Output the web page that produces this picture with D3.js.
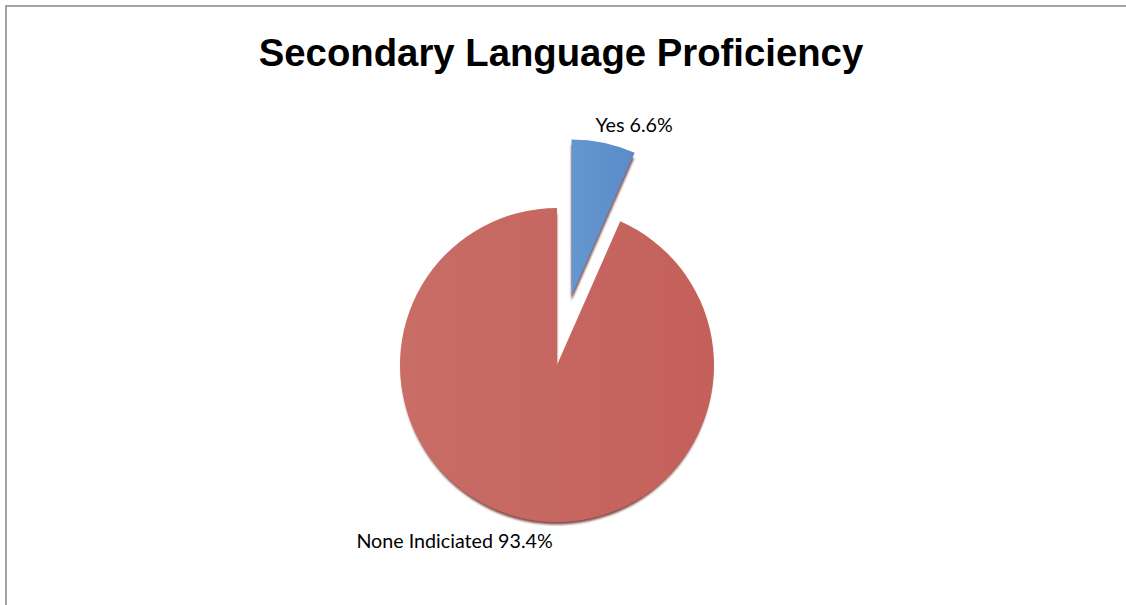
<!DOCTYPE html>
<html>
<head>
<meta charset="utf-8">
<script src="https://cdn.jsdelivr.net/npm/d3@7"></script>
<style>
  body { margin: 0; background: #fff; }
  svg { display: block; }
</style>
</head>
<body>
<svg id="chart" width="1126" height="605"></svg>
<script>
// dane z wykresu
const title = 'Secondary Language Proficiency';
const categories = ['Yes', 'None Indiciated'];
const values = [6.6, 93.4];
const explodes = [70, 0];

const svg = d3.select('#chart');

const cx = 557;
const cy = 365;
const radius = 157;

// ramka
svg.append('rect')
  .attr('x', 6)
  .attr('y', 6)
  .attr('width', 1200)
  .attr('height', 800)
  .attr('fill', 'none')
  .attr('stroke', '#a3a3a3')
  .attr('stroke-width', 2);

svg.append('text')
  .attr('x', 561)
  .attr('y', 66)
  .attr('text-anchor', 'middle')
  .attr('font-family', 'Liberation Sans, Arial, sans-serif')
  .attr('font-weight', 'bold')
  .attr('font-size', 38.3)
  .attr('fill', '#000')
  .text(title);

const defs = svg.append('defs');
const grads = [['#6597d0', '#5a8bc7'], ['#c96d67', '#c4605a']];
grads.forEach((c, i) => {
  const g = defs.append('linearGradient')
    .attr('id', `grad-${i}`)
    .attr('x1', '0%').attr('x2', '100%')
    .attr('y1', '0%').attr('y2', '0%');
  g.append('stop').attr('offset', '0%').attr('stop-color', c[0]);
  g.append('stop').attr('offset', '100%').attr('stop-color', c[1]);
});
defs.append('filter')
  .attr('id', 'blur')
  .append('feGaussianBlur')
  .attr('stdDeviation', 1.2);

const data = categories.map((c, i) => ({ name: c, value: values[i], explode: explodes[i] }));

const pie = d3.pie()
  .sort(null)
  .value(d => d.value);

const arc = d3.arc()
  .innerRadius(0)
  .outerRadius(radius);

const shadowArc = d3.arc()
  .innerRadius(0)
  .outerRadius(radius - 1.5);

const arcs = pie(data);
const mid = d => (d.startAngle + d.endAngle) / 2;
const polar = (a, r) => [Math.sin(a) * r, -Math.cos(a) * r];

const g = svg.append('g')
  .attr('transform', `translate(${cx},${cy})`);

// cien pod wycinkami
g.selectAll('.shadow')
  .data(arcs)
  .enter()
  .append('path')
  .attr('class', 'shadow')
  .attr('transform', (d) => {
    const p = polar(mid(d), d.data.explode);
    return `translate(${p[0]},${p[1] + 4})`;
  })
  .attr('d', shadowArc)
  .attr('fill', '#6e2e2b')
  .attr('opacity', 0.85)
  .attr('filter', 'url(#blur)');

g.selectAll('.slice')
  .data(arcs)
  .enter()
  .append('path')
  .attr('class', 'slice')
  .attr('transform', (d) => {
    const p = polar(mid(d), d.data.explode);
    return `translate(${p[0]},${p[1]})`;
  })
  .attr('d', arc)
  .attr('fill', (d, i) => `url(#grad-${i})`);

// etykiety
const labelCfg = [
  { r: radius + 78, anchor: 'start', dx: -10, dy: -3 },
  { r: radius + 24, anchor: 'end', dx: 33, dy: 6 },
];

g.selectAll('.label')
  .data(arcs)
  .enter()
  .append('text')
  .attr('class', 'label')
  .attr('x', (d, i) => polar(mid(d), labelCfg[i].r)[0] + labelCfg[i].dx)
  .attr('y', (d, i) => polar(mid(d), labelCfg[i].r)[1] + labelCfg[i].dy)
  .attr('text-anchor', (d, i) => labelCfg[i].anchor)
  .attr('font-family', 'Lato, sans-serif')
  .attr('font-size', 19.7)
  .attr('fill', '#000')
  .text(d => `${d.data.name} ${d.data.value.toFixed(1)}%`);
</script>
</body>
</html>
